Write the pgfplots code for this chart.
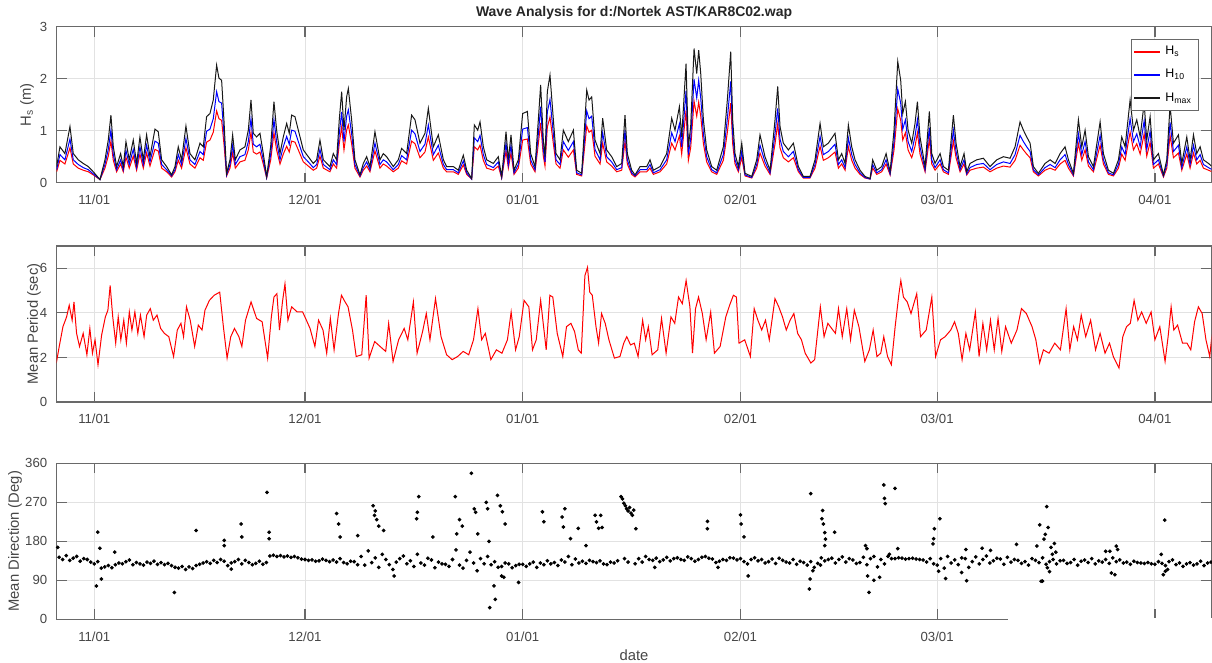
\documentclass[border=0pt]{standalone}
\usepackage{pgfplots}
\pgfplotsset{compat=1.18}
\usepackage{pgfplotstable}
\usepackage{fontspec}
\setmainfont{Liberation Sans}

\definecolor{axgray}{RGB}{105,105,105}
\definecolor{txtgray}{RGB}{70,70,70}
\definecolor{gridgray}{RGB}{226,226,226}

% days counted from 1 Nov (0 = 11/01)
\pgfplotstableread{
x hmax hs h10
-5.36 0.31 0.21 0.25
-4.89 0.69 0.43 0.54
-4.18 0.56 0.36 0.44
-3.46 1.08 0.67 0.84
-2.99 0.56 0.36 0.44
-2.28 0.44 0.28 0.35
-1.57 0.37 0.24 0.29
-0.85 0.31 0.21 0.25
-0.14 0.21 0.15 0.17
0.81 0.06 0.06 0.06
1.52 0.44 0.28 0.35
1.99 0.82 0.51 0.64
2.37 1.30 0.80 1.01
2.71 0.69 0.43 0.54
3.18 0.31 0.21 0.25
3.75 0.56 0.36 0.44
4.13 0.31 0.21 0.25
4.51 0.79 0.49 0.62
4.98 0.44 0.28 0.35
5.55 0.82 0.51 0.64
6.03 0.37 0.24 0.29
6.50 0.88 0.55 0.69
6.98 0.44 0.28 0.35
7.45 0.92 0.57 0.72
7.93 0.50 0.32 0.40
8.64 1.03 0.64 0.80
9.11 0.98 0.61 0.76
9.59 0.44 0.28 0.35
10.30 0.31 0.21 0.25
11.01 0.15 0.11 0.13
11.49 0.31 0.21 0.25
11.96 0.69 0.43 0.54
12.43 0.44 0.28 0.35
13.05 1.09 0.67 0.85
13.62 0.56 0.36 0.44
14.33 0.44 0.28 0.35
15.05 0.76 0.48 0.60
15.52 0.69 0.43 0.54
15.99 1.27 0.78 0.99
16.47 1.33 0.82 1.03
16.94 1.59 0.97 1.23
17.42 2.26 1.38 1.75
17.75 2.01 1.23 1.56
18.13 1.97 1.20 1.53
18.46 1.21 0.75 0.94
18.84 0.18 0.13 0.15
19.32 0.44 0.28 0.35
19.70 0.92 0.57 0.72
20.08 0.44 0.28 0.35
20.74 0.63 0.40 0.50
21.45 0.69 0.43 0.54
21.93 1.01 0.63 0.79
22.31 1.59 0.97 1.23
22.64 0.95 0.59 0.74
23.11 0.88 0.55 0.69
23.59 0.95 0.59 0.74
24.06 0.56 0.36 0.44
24.54 0.12 0.09 0.10
25.11 0.69 0.43 0.54
25.58 1.56 0.96 1.21
25.96 1.01 0.63 0.79
26.44 0.56 0.36 0.44
26.91 0.88 0.55 0.69
27.39 1.14 0.70 0.89
27.76 0.95 0.59 0.74
28.10 1.30 0.80 1.01
28.57 1.27 0.78 0.99
29.05 1.01 0.63 0.79
29.76 0.63 0.40 0.50
30.47 0.50 0.32 0.40
31.18 0.37 0.24 0.29
31.66 0.44 0.28 0.35
32.13 0.82 0.51 0.64
32.61 0.44 0.28 0.35
33.55 0.31 0.21 0.25
34.03 0.56 0.36 0.44
34.50 0.44 0.28 0.35
34.88 1.21 0.75 0.94
35.22 1.75 1.07 1.36
35.55 1.01 0.63 0.79
35.93 1.65 1.01 1.28
36.17 1.81 1.11 1.40
36.64 1.21 0.75 0.94
37.11 0.44 0.28 0.35
37.83 0.15 0.11 0.13
38.30 0.37 0.24 0.29
38.78 0.50 0.32 0.40
39.25 0.31 0.21 0.25
39.96 0.98 0.61 0.76
40.67 0.44 0.28 0.35
41.15 0.56 0.36 0.44
41.62 0.50 0.32 0.40
42.57 0.31 0.21 0.25
43.28 0.44 0.28 0.35
43.76 0.66 0.42 0.52
44.47 0.56 0.36 0.44
45.18 1.30 0.80 1.01
45.66 1.21 0.75 0.94
46.37 0.76 0.48 0.60
47.08 0.95 0.59 0.74
47.56 1.43 0.88 1.11
48.27 0.69 0.43 0.54
48.98 0.92 0.57 0.72
49.70 0.44 0.28 0.35
50.17 0.31 0.21 0.25
51.12 0.31 0.21 0.25
51.83 0.24 0.16 0.19
52.54 0.53 0.34 0.42
53.02 0.24 0.16 0.19
53.73 0.08 0.07 0.07
54.11 1.11 0.69 0.86
54.59 1.01 0.63 0.79
54.92 1.17 0.72 0.91
55.39 0.69 0.43 0.54
55.87 0.44 0.28 0.35
56.81 0.37 0.24 0.29
57.52 0.50 0.32 0.40
58.00 0.12 0.09 0.10
58.62 0.98 0.61 0.76
58.95 0.44 0.28 0.35
59.33 0.92 0.57 0.72
59.76 0.24 0.16 0.19
60.37 0.44 0.28 0.35
60.99 1.33 0.82 1.03
61.66 1.37 0.84 1.06
62.13 0.56 0.36 0.44
62.75 0.31 0.21 0.25
63.22 1.21 0.75 0.94
63.55 1.88 1.15 1.46
63.93 0.82 0.51 0.64
64.17 0.50 0.32 0.40
64.50 1.75 1.07 1.36
64.88 2.07 1.26 1.60
65.36 1.21 0.75 0.94
65.74 0.56 0.36 0.44
66.31 0.44 0.28 0.35
66.78 1.01 0.63 0.79
67.49 0.79 0.49 0.62
68.21 1.01 0.63 0.79
68.68 0.24 0.16 0.19
69.39 0.18 0.13 0.15
69.77 1.01 0.63 0.79
70.11 1.78 1.09 1.38
70.44 1.59 0.97 1.23
70.82 1.65 1.01 1.28
71.29 0.82 0.51 0.64
72.01 0.56 0.36 0.44
72.38 1.24 0.76 0.96
72.95 0.63 0.40 0.50
73.66 0.50 0.32 0.40
74.38 0.31 0.21 0.25
75.09 0.37 0.24 0.29
75.56 1.30 0.80 1.01
75.89 0.56 0.36 0.44
76.51 0.24 0.16 0.19
76.99 0.15 0.11 0.13
77.70 0.31 0.21 0.25
78.65 0.31 0.21 0.25
79.12 0.44 0.28 0.35
79.60 0.24 0.16 0.19
80.55 0.31 0.21 0.25
81.49 0.56 0.36 0.44
82.21 1.24 0.76 0.96
82.68 1.01 0.63 0.79
83.30 1.46 0.90 1.13
83.63 0.88 0.55 0.69
84.25 2.29 1.39 1.77
84.58 0.69 0.43 0.54
84.91 1.08 0.67 0.84
85.39 2.58 1.57 1.99
85.77 2.10 1.28 1.63
86.05 2.55 1.55 1.97
86.34 2.10 1.28 1.63
86.72 1.21 0.75 0.94
87.19 0.63 0.40 0.50
87.90 0.31 0.21 0.25
88.61 0.24 0.16 0.19
89.56 0.69 0.43 0.54
90.13 1.59 0.97 1.23
90.61 2.52 1.53 1.95
90.89 1.21 0.75 0.94
91.22 0.56 0.36 0.44
91.70 0.31 0.21 0.25
92.18 0.76 0.48 0.60
92.65 0.18 0.13 0.15
93.60 0.12 0.09 0.10
94.31 0.44 0.28 0.35
94.78 0.92 0.57 0.72
95.49 0.50 0.32 0.40
96.21 0.24 0.16 0.19
96.92 1.21 0.75 0.94
97.30 1.85 1.13 1.43
97.63 1.08 0.67 0.84
98.10 0.76 0.48 0.60
98.82 0.63 0.40 0.50
99.53 0.76 0.48 0.60
100.24 0.31 0.21 0.25
100.95 0.12 0.09 0.10
101.90 0.12 0.09 0.10
102.61 0.44 0.28 0.35
103.33 1.14 0.70 0.89
103.80 0.69 0.43 0.54
104.51 0.76 0.48 0.60
105.46 0.95 0.59 0.74
105.94 0.44 0.28 0.35
106.41 0.56 0.36 0.44
106.89 0.37 0.24 0.29
107.36 1.11 0.69 0.86
107.84 0.69 0.43 0.54
108.31 0.44 0.28 0.35
109.02 0.24 0.16 0.19
109.73 0.12 0.09 0.10
110.45 0.08 0.07 0.07
110.82 0.44 0.28 0.35
111.40 0.24 0.16 0.19
112.11 0.31 0.21 0.25
112.73 0.56 0.36 0.44
113.30 0.21 0.15 0.17
113.86 1.01 0.63 0.79
114.39 2.33 1.42 1.80
114.81 1.97 1.20 1.53
115.10 1.33 0.82 1.03
115.48 1.56 0.96 1.21
115.86 1.01 0.63 0.79
116.38 0.76 0.48 0.60
116.85 1.14 0.70 0.89
117.19 1.56 0.96 1.21
117.56 0.88 0.55 0.69
118.28 0.31 0.21 0.25
118.89 1.37 0.84 1.06
119.23 0.56 0.36 0.44
119.70 0.37 0.24 0.29
120.42 0.56 0.36 0.44
120.89 0.31 0.21 0.25
121.60 0.24 0.16 0.19
122.31 1.30 0.80 1.01
122.69 0.76 0.48 0.60
123.26 0.31 0.21 0.25
123.83 0.56 0.36 0.44
124.21 0.21 0.15 0.17
124.68 0.37 0.24 0.29
125.63 0.44 0.28 0.35
126.58 0.47 0.30 0.37
127.53 0.31 0.21 0.25
128.48 0.44 0.28 0.35
129.43 0.50 0.32 0.40
130.38 0.47 0.30 0.37
131.09 0.69 0.43 0.54
131.80 1.17 0.72 0.91
132.28 1.01 0.63 0.79
132.75 0.88 0.55 0.69
133.23 0.76 0.48 0.60
133.70 0.31 0.21 0.25
134.41 0.18 0.13 0.15
135.36 0.37 0.24 0.29
136.08 0.44 0.28 0.35
136.79 0.37 0.24 0.29
137.50 0.56 0.36 0.44
138.21 0.69 0.43 0.54
138.69 0.44 0.28 0.35
139.40 0.18 0.13 0.15
140.11 1.21 0.75 0.94
140.59 0.69 0.43 0.54
141.06 1.01 0.63 0.79
141.54 0.50 0.32 0.40
142.25 0.31 0.21 0.25
143.20 1.17 0.72 0.91
143.67 0.56 0.36 0.44
144.38 0.24 0.16 0.19
145.10 0.18 0.13 0.15
145.81 0.44 0.28 0.35
146.28 0.88 0.55 0.69
146.76 0.69 0.43 0.54
147.47 1.59 0.97 1.23
147.95 1.01 0.63 0.79
148.42 1.21 0.75 0.94
148.90 0.88 0.55 0.69
149.47 1.53 0.94 1.19
149.84 0.82 0.51 0.64
150.32 1.27 0.78 0.99
150.79 0.44 0.28 0.35
151.50 0.56 0.36 0.44
152.22 0.15 0.11 0.13
152.69 0.44 0.28 0.35
153.16 1.49 0.91 1.16
153.64 0.76 0.48 0.60
154.35 0.92 0.57 0.72
154.83 0.37 0.24 0.29
155.54 0.88 0.55 0.69
156.01 0.44 0.28 0.35
156.49 0.92 0.57 0.72
156.96 0.56 0.36 0.44
157.44 0.69 0.43 0.54
157.91 0.44 0.28 0.35
158.63 0.37 0.24 0.29
159.15 0.31 0.21 0.25
}\heighttab

\pgfplotstableread{
x tm
-5.40 1.75
-4.99 2.49
-4.46 3.38
-3.94 3.82
-3.57 4.34
-3.15 3.67
-2.89 4.49
-2.52 3.08
-2.10 2.49
-1.58 3.08
-1.05 2.12
-0.63 3.30
-0.26 2.19
0.11 2.79
0.53 1.67
1.05 3.01
1.58 3.82
1.94 4.12
2.26 5.23
2.63 3.82
3.05 2.64
3.41 3.82
3.78 2.79
4.20 3.67
4.57 2.64
4.99 4.04
5.36 3.23
5.78 4.04
6.20 3.08
6.57 3.90
7.09 2.93
7.46 3.90
7.98 4.19
8.40 3.67
8.93 3.90
9.45 3.30
9.98 3.08
10.61 2.93
11.29 2.04
11.82 3.23
12.34 3.53
12.71 2.93
13.13 4.27
13.66 3.67
14.29 2.49
14.81 3.45
15.34 3.23
15.76 4.12
16.39 4.56
17.07 4.79
17.86 4.93
18.38 3.38
18.91 1.97
19.43 2.93
19.96 3.30
20.59 2.93
21.01 2.49
21.53 3.67
22.32 4.49
23.11 3.75
23.90 3.60
24.68 1.97
25.21 3.82
25.58 4.71
26.00 4.86
26.37 3.23
26.79 4.49
27.15 5.30
27.57 3.67
28.10 4.27
28.89 4.04
29.67 4.04
30.20 3.67
30.72 3.30
31.41 2.49
31.93 3.67
32.56 3.23
33.09 2.19
33.61 3.75
34.14 2.34
34.77 3.97
35.19 4.79
35.71 4.49
36.13 4.27
36.76 3.23
37.29 2.04
38.08 2.12
38.71 4.79
39.13 1.97
39.92 2.71
40.70 2.49
41.49 2.27
41.91 3.53
42.54 1.82
43.33 2.79
44.12 3.30
44.64 2.79
45.43 4.49
45.96 2.19
46.74 3.16
47.27 3.97
47.79 2.79
48.58 4.64
49.37 2.93
50.16 2.12
50.95 1.90
51.73 2.04
52.52 2.27
53.31 2.12
53.99 2.79
54.62 4.19
55.15 2.79
55.67 3.08
56.46 1.90
57.25 2.34
58.04 2.19
58.82 2.79
59.35 4.04
59.98 2.34
60.50 2.93
61.19 4.56
61.87 4.27
62.39 2.34
62.92 2.79
63.55 4.56
64.34 2.34
64.86 4.79
65.28 4.71
65.91 3.08
66.70 2.04
67.23 3.38
67.86 3.53
68.38 3.16
68.91 2.34
69.33 2.19
69.85 5.67
70.22 6.04
70.54 4.93
70.90 4.79
71.43 3.38
71.80 2.64
72.22 3.97
72.74 3.53
73.27 2.79
74.05 1.97
74.84 2.04
75.38 2.64
75.81 2.93
76.35 2.56
76.88 2.64
77.42 2.04
78.07 3.67
78.50 2.79
78.88 3.38
79.42 2.12
80.22 2.34
80.76 3.75
81.41 2.19
82.10 3.82
82.64 3.53
83.18 4.71
83.72 4.41
84.26 5.45
84.80 4.27
85.17 2.19
85.60 4.19
86.03 4.71
86.57 3.97
87.11 2.79
87.76 4.04
88.29 2.19
89.10 2.49
89.91 3.82
90.45 4.34
90.99 4.79
91.42 4.71
91.79 2.64
92.60 2.79
93.41 2.04
93.95 4.19
94.48 3.67
95.02 3.23
95.56 3.67
96.10 2.79
96.91 4.64
97.45 4.27
97.98 3.82
98.52 3.23
99.06 3.67
99.60 3.97
100.14 3.08
100.68 2.79
101.21 2.19
102.02 1.75
102.56 1.90
103.37 4.27
103.90 2.93
104.44 3.53
104.98 3.30
105.52 3.08
105.95 4.19
106.49 2.93
107.13 4.19
107.67 2.79
108.21 4.12
108.86 3.38
109.70 1.82
110.35 2.34
110.89 3.23
111.43 2.04
111.97 2.19
112.40 2.93
112.94 2.04
113.48 1.67
114.02 3.38
114.56 4.86
114.83 5.45
115.20 4.71
115.74 4.49
116.28 3.97
117.09 4.86
117.63 2.93
118.44 3.23
119.24 4.71
119.78 2.04
120.48 2.79
121.13 2.93
121.94 3.23
122.48 3.60
123.01 3.08
123.55 1.90
124.09 3.08
124.63 2.34
125.44 4.04
125.97 2.04
126.51 3.53
127.05 2.34
127.59 3.67
128.13 2.34
128.67 3.75
129.20 2.27
129.74 3.38
130.55 2.64
131.36 3.23
132.00 4.19
132.70 3.97
133.51 3.38
134.05 2.79
134.59 1.75
135.13 2.34
135.93 2.19
136.74 2.64
137.55 2.34
138.36 4.19
138.89 2.34
139.43 3.38
139.97 2.79
140.51 3.90
141.15 2.93
141.85 3.67
142.55 2.34
143.20 3.08
143.90 2.19
144.54 2.64
145.08 2.04
145.89 1.53
146.43 2.93
146.96 3.38
147.50 3.53
148.04 4.56
148.58 3.67
149.11 4.04
149.76 3.53
150.46 4.04
151.00 2.79
151.70 3.38
152.45 1.82
152.88 2.93
153.31 4.27
153.69 3.23
154.23 3.45
154.93 2.64
155.57 2.64
156.11 2.34
156.65 3.60
157.19 4.27
157.73 3.97
158.27 2.79
158.81 2.04
159.24 3.38
}\periodtab

\pgfplotsset{
  matpanel/.style={
    scale only axis, width=577.37pt, height=78pt,
    xmin=-5.35, xmax=159.05,
    xtick={0,30,61,92,120,151},
    xticklabels={11/01,12/01,01/01,02/01,03/01,04/01},
    grid=major, grid style={gridgray, line width=0.45pt},
    axis line style={axgray, line width=0.75pt},
    tick style={axgray, line width=0.6pt},
    major tick length=5pt,
    tick align=inside,
    /pgf/number format/assume math mode=true,
    ticklabel style={font=\fontsize{6.6}{7}\selectfont, text=txtgray},
    xticklabel style={yshift=-2.6pt},
    yticklabel style={xshift=-1.2pt},
    label style={font=\fontsize{7.4}{8}\selectfont, text=txtgray},
  },
  every axis title/.style={at={(0.5,1)}, anchor=base, yshift=5.3pt,
    font=\fontsize{7}{8}\selectfont\bfseries, text=black!85},
}

\begin{document}
\begin{tikzpicture}
\path[use as bounding box] (0pt,0pt) rectangle (606pt,-331.5pt);

% wave heights
\begin{axis}[matpanel,
  at={(28.35pt,-91.35pt)}, anchor=south west,
  ymin=0, ymax=3, ytick={0,1,2,3},
  ylabel={H\textsubscript{s} (m)},
  ylabel style={at={(axis description cs:-0.0257,0.5)}, anchor=center},
  title={Wave Analysis for d:/Nortek AST/KAR8C02.wap},
  legend style={at={(0.989,0.921)}, anchor=north east, draw=axgray, line width=0.5pt,
    font=\fontsize{6.2}{7}\selectfont, inner sep=1.2pt, row sep=1.9pt,
    cells={anchor=west}},
]
\addplot[red, line width=0.5pt, forget plot] table[x=x, y=hs] {\heighttab};
\addplot[blue, line width=0.5pt, forget plot] table[x=x, y=h10] {\heighttab};
\addplot[black!90, line width=0.5pt, forget plot] table[x=x, y=hmax] {\heighttab};
\addlegendimage{legend image code/.code={\draw[red, line width=1pt] (0pt,0pt) -- (13pt,0pt);}}
\addlegendentry{H\textsubscript{s}}
\addlegendimage{legend image code/.code={\draw[blue, line width=1pt] (0pt,0pt) -- (13pt,0pt);}}
\addlegendentry{H\textsubscript{10}}
\addlegendimage{legend image code/.code={\draw[black!90, line width=1pt] (0pt,0pt) -- (13pt,0pt);}}
\addlegendentry{H\textsubscript{max}}
\end{axis}

% mean period
\begin{axis}[matpanel,
  at={(28.35pt,-201pt)}, anchor=south west,
  ymin=0, ymax=7, ytick={0,2,4,6},
  ylabel={Mean Period (sec)},
  ylabel style={at={(axis description cs:-0.0197,0.5)}, anchor=center},
]
\addplot[red, line width=0.5pt] table[x=x, y=tm] {\periodtab};
\end{axis}

% mean direction
\begin{axis}[matpanel,
  at={(28.35pt,-309.65pt)}, anchor=south west,
  ymin=0, ymax=360, ytick={0,90,180,270,360},
  ylabel={Mean Direction (Deg)},
  ylabel style={at={(axis description cs:-0.0361,0.5)}, anchor=center},
  xlabel={date},
  xlabel style={at={(axis description cs:0.5,-0.229)}, anchor=center},
]
% main band
\addplot[only marks, mark=*, mark size=0.72pt, black] coordinates {
(-5,143) (-4.5,138) (-4,147) (-3.5,136) (-3,141) (-2.5,145) (-2,134) (-1.5,140) (-1,138) (-0.5,132)
(0,128) (0.5,133) (1,118) (1.5,121) (2,124) (2.5,119) (3,126) (3.5,130) (4,128) (4.5,133)
(5,137) (5.5,126) (6,131) (6.5,128) (7,125) (7.5,132) (8,129) (8.5,134) (9,127) (9.5,131)
(10,126) (10.5,129) (11,124) (11.5,120) (12,118) (12.5,122) (13,115) (13.5,121) (14,117) (14.5,124)
(15,127) (15.5,130) (16,133) (16.5,129) (17,136) (17.5,131) (18,138) (18.5,134) (19,124) (19.5,130)
(20,133) (20.5,138) (21,128) (21.5,136) (22,131) (22.5,126) (23,129) (23.5,134) (24,127) (24.5,131)
(25,146) (25.5,148) (26,145) (26.5,147) (27,144) (27.5,146) (28,143) (28.5,145) (29,142) (29.5,139)
(30,138) (30.5,136) (31,137) (31.5,134) (32,135) (32.5,139) (33,136) (33.5,133) (34,137) (34.5,132)
(35,140) (35.5,131) (36,128) (36.5,134) (37,133) (37.5,126) (38,145) (38.5,125) (39,158) (39.5,131)
(40,142) (40.5,120) (41,150) (41.5,138) (42,126) (42.5,115) (43,132) (43.5,140) (44,146) (44.5,128)
(45,135) (45.5,122) (46,150) (46.5,130) (47,125) (47.5,141) (48,137) (48.5,119) (49,132) (49.5,128)
(50,127) (50.5,122) (51,138) (51.5,160) (52,125) (52.5,118) (53,136) (53.5,155) (54,130) (54.5,112)
(55,140) (55.5,128) (56,145) (56.5,126) (57,133) (57.5,120) (58,122) (58.5,130) (59,128) (59.5,119)
(60,124) (60.5,127) (61,127) (61.5,122) (62,128) (62.5,132) (63,120) (63.5,130) (64,126) (64.5,135)
(65,128) (65.5,131) (66,124) (66.5,137) (67,132) (67.5,145) (68,126) (68.5,139) (69,130) (69.5,134)
(70,129) (70.5,136) (71,133) (71.5,131) (72,135) (72.5,128) (73,126) (73.5,132) (74,130) (74.5,135)
(77,128) (77.5,140) (78,132) (78.5,145) (79,138) (79.5,136) (80,141) (80.5,133) (81,137) (81.5,143)
(82,135) (82.5,140) (83,142) (83.5,138) (84,136) (84.5,144) (85,140) (85.5,134) (86,138) (86.5,143)
(87,145) (87.5,141) (88,139) (88.5,131) (89,134) (89.5,138) (90,136) (90.5,142) (91,141) (91.5,137)
(92,140) (92.5,133) (93,128) (93.5,138) (94,142) (94.5,135) (95,138) (95.5,130) (96,133) (96.5,139)
(97,129) (97.5,141) (98,136) (98.5,132) (99,130) (99.5,138) (100,127) (100.5,134) (101,131) (101.5,125)
(102,133) (102.5,120) (103,129) (103.5,142) (104,135) (104.5,138) (105,141) (105.5,130) (106,138) (106.5,144)
(107,132) (107.5,140) (108,137) (108.5,129) (109,131) (109.5,143) (110,126) (110.5,140) (111,145) (111.5,121)
(112,138) (112.5,128) (113,145) (113.5,140) (114,140) (114.5,142) (115,141) (115.5,139) (116,140) (116.5,141)
(117,139) (117.5,138) (118,137) (118.5,132) (119,140) (119.5,128) (120,125) (120.5,140) (121,118) (121.5,145)
(122,130) (122.5,137) (123,126) (123.5,142) (124,140) (124.5,120) (125,133) (125.5,144) (126,128) (126.5,138)
(127,146) (127.5,130) (128,135) (128.5,141) (129,139) (129.5,127) (130,143) (130.5,132) (131,138) (131.5,136)
(132,129) (132.5,133) (133,125) (133.5,140) (134,136) (134.5,131) (135,142) (135.5,127) (136,133) (136.5,138)
(137,128) (137.5,135) (138,136) (138.5,129) (139,131) (139.5,138) (140,125) (140.5,134) (141,137) (141.5,131)
(142,140) (142.5,128) (143,135) (143.5,132) (144,138) (144.5,129) (145,142) (145.5,133) (146,137) (146.5,130)
(147,132) (147.5,127) (148,134) (148.5,131) (149,130) (149.5,129) (150,131) (150.5,128) (151,127) (151.5,133)
(152,129) (152.5,124) (153,133) (153.5,137) (154,126) (154.5,130) (155,122) (155.5,128) (156,131) (156.5,125)
(157,128) (157.5,134) (158,124) (158.5,130) (159,132)
};
% scattered directions
\addplot[only marks, mark=*, mark size=0.72pt, black] coordinates {
(-5.2,166) (0.5,201) (0.3,77) (1.0,93) (0.8,164) (2.9,155) (11.4,62) (14.5,205)
(18.5,182) (18.5,170) (20.9,220) (21.0,190) (19.5,116) (24.6,293) (24.9,201) (24.9,186)
(34.5,244) (34.8,220) (35.0,190) (37.5,193) (39.7,262) (40.0,250) (40.2,230) (40.5,215)
(39.9,240) (42.7,100) (41.2,205) (46.2,283) (46.0,247) (45.9,232) (48.2,190) (51.4,283)
(51.6,197) (52.0,230) (52.4,215) (53.7,337) (54.1,255) (54.3,247) (54.6,197) (55.8,270)
(56.0,255) (56.2,180) (56.9,77) (57.1,46) (56.3,27) (57.4,286) (57.8,262) (58.1,248)
(58.5,220) (58.0,100) (58.3,97) (60.4,85) (63.8,248) (64.0,225) (66.6,236) (66.8,213)
(67.0,255) (67.8,186) (68.9,210) (70.0,170) (71.3,240) (71.5,225) (71.8,210) (72.1,240)
(72.3,212) (75.0,283) (75.2,278) (75.4,268) (75.6,262) (75.8,255) (76.0,250) (76.2,258)
(76.4,245) (76.6,240) (76.8,252) (77.1,209) (75.5,140) (76.0,132)
(87.3,226) (87.3,209) (92.0,241) (92.1,220) (92.5,190) (93.1,100) (79.8,120) (88.8,120)
(102.0,290) (101.9,93) (101.8,70) (103.7,251) (103.6,232) (103.8,220) (104.0,200) (104.1,185)
(104.0,170) (105.4,201) (103.4,125) (102.3,112) (109.8,170) (110.0,163) (110.1,100) (110.3,62)
(111.0,90) (111.8,97) (112.4,310) (112.5,279) (112.6,267) (114.0,302) (113.2,150) (114.4,163)
(119.6,209) (119.5,186) (119.4,174) (120.4,232) (120.2,111) (121.2,94) (124.2,89) (123.5,108)
(124.1,161) (126.4,164) (127.6,159) (131.3,173) (134.2,169) (134.6,218) (135.6,260) (135.8,212)
(135.2,185) (135.4,196) (134.8,88) (135.0,88) (136.2,166) (136.4,150) (136.7,175) (136.9,155)
(135.7,119) (136.0,110) (144.8,107) (145.3,103) (145.5,169) (145.7,161) (144.0,157) (144.6,157)
(152.4,229) (151.9,150) (152.2,103) (152.5,111) (152.8,115)
};
\end{axis}

% the lower right corner of the source image is blanked out
\fill[white] (504pt,-309.2pt) rectangle (610pt,-335pt);
\end{tikzpicture}
\end{document}
